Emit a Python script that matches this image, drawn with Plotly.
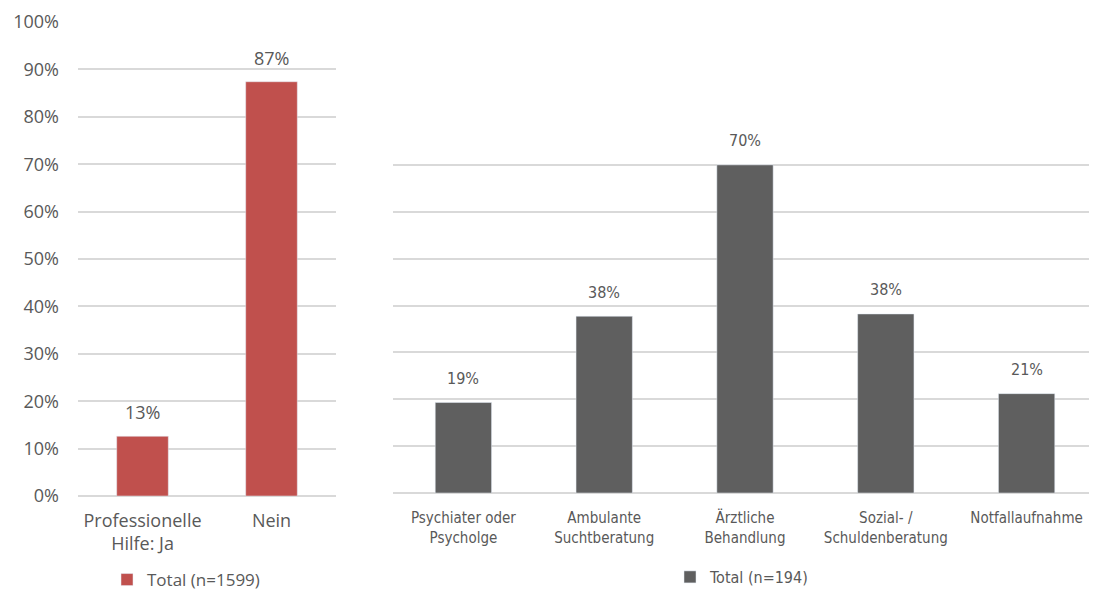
import plotly.graph_objects as go

# ---- data ----
left_categories = ["Professionelle<br>Hilfe: Ja", "Nein"]
left_values = [12.6, 87.4]
left_series = "Total (n=1599)"

right_categories = ["Psychiater oder<br>Psycholge", "Ambulante<br>Suchtberatung", "Ärztliche<br>Behandlung",
                    "Sozial- /<br>Schuldenberatung", "Notfallaufnahme"]
right_values = [19.3, 37.7, 70.0, 38.2, 21.2]
right_series = "Total (n=194)"

left_ticks = list(range(0, 101, 10))
right_ticks = list(range(0, 81, 10))

# ---- styles ----
OFF = 8  # default page body margin
W, H = 1097 - OFF, 592 - OFF
RED = "#C0504D"
GREY = "#5F5F5F"
TXT = "#595959"
GRID = "#D9D9D9"
LFONT = "Open Sans, Noto Sans, sans-serif"
RFONT = "DejaVu Sans Condensed, Roboto Condensed, Liberation Sans Narrow, Open Sans, sans-serif"

def px_x(p):
    return (p - OFF) / W

def px_y(p):
    return 1 - (p - OFF) / H

fig = go.Figure()
fig.add_trace(go.Bar(x=left_categories, y=left_values, name=left_series, marker_color=RED,
                     width=0.4, xaxis="x", yaxis="y", legend="legend", hoverinfo="skip"))
fig.add_trace(go.Bar(x=right_categories, y=right_values, name=right_series, marker_color=GREY,
                     width=0.4, xaxis="x2", yaxis="y2", legend="legend2", hoverinfo="skip"))

annotations = []
for c, v in zip(left_categories, left_values):
    annotations.append(dict(x=c, y=v, xref="x", yref="y", text=f"{v:.0f}%", showarrow=False,
                            yshift=24, font=dict(family=LFONT, size=18, color=TXT)))
for c, v in zip(right_categories, right_values):
    annotations.append(dict(x=c, y=v, xref="x2", yref="y2", text=f"{v:.0f}%", showarrow=False,
                            yshift=24, font=dict(family=RFONT, size=16, color=TXT)))

fig.update_layout(
    width=W, height=H,
    margin=dict(l=0, r=0, t=0, b=0, autoexpand=False),
    paper_bgcolor="white", plot_bgcolor="white",
    bargap=0.6,
    annotations=annotations,
    xaxis=dict(domain=[px_x(78), px_x(336)], anchor="y", showgrid=False, showline=False,
               ticks="", ticklabelstandoff=12, automargin=False,
               tickfont=dict(family=LFONT, size=18, color=TXT)),
    yaxis=dict(domain=[px_y(496), px_y(22)], anchor="x", range=[0, 100],
               tickvals=left_ticks, ticktext=[f"{t}%" for t in left_ticks],
               showgrid=True, gridcolor=GRID, gridwidth=1.5, zeroline=True, zerolinecolor=GRID,
               zerolinewidth=1.5, ticks="", ticklabelstandoff=18, automargin=False,
               tickfont=dict(family=LFONT, size=18, color=TXT)),
    xaxis2=dict(domain=[px_x(393), 1.0], anchor="y2", showgrid=False, showline=False,
                ticks="", ticklabelstandoff=14, automargin=False,
                tickfont=dict(family=RFONT, size=15, color=TXT)),
    yaxis2=dict(domain=[px_y(493), px_y(118)], anchor="x2", range=[0, 80],
                tickvals=right_ticks, showticklabels=False, automargin=False,
                showgrid=True, gridcolor=GRID, gridwidth=1.5, zeroline=True, zerolinecolor=GRID,
                zerolinewidth=1.5, ticks=""),
    legend=dict(x=px_x(186), y=px_y(580), xanchor="center", yanchor="middle",
                orientation="h", font=dict(family=LFONT, size=17, color=TXT),
                bgcolor="rgba(0,0,0,0)", itemwidth=30),
    legend2=dict(x=px_x(742), y=px_y(577), xanchor="center", yanchor="middle",
                 orientation="h", font=dict(family=RFONT, size=16, color=TXT),
                 bgcolor="rgba(0,0,0,0)", itemwidth=30),
    showlegend=True,
)

fig.write_html("out.html")
